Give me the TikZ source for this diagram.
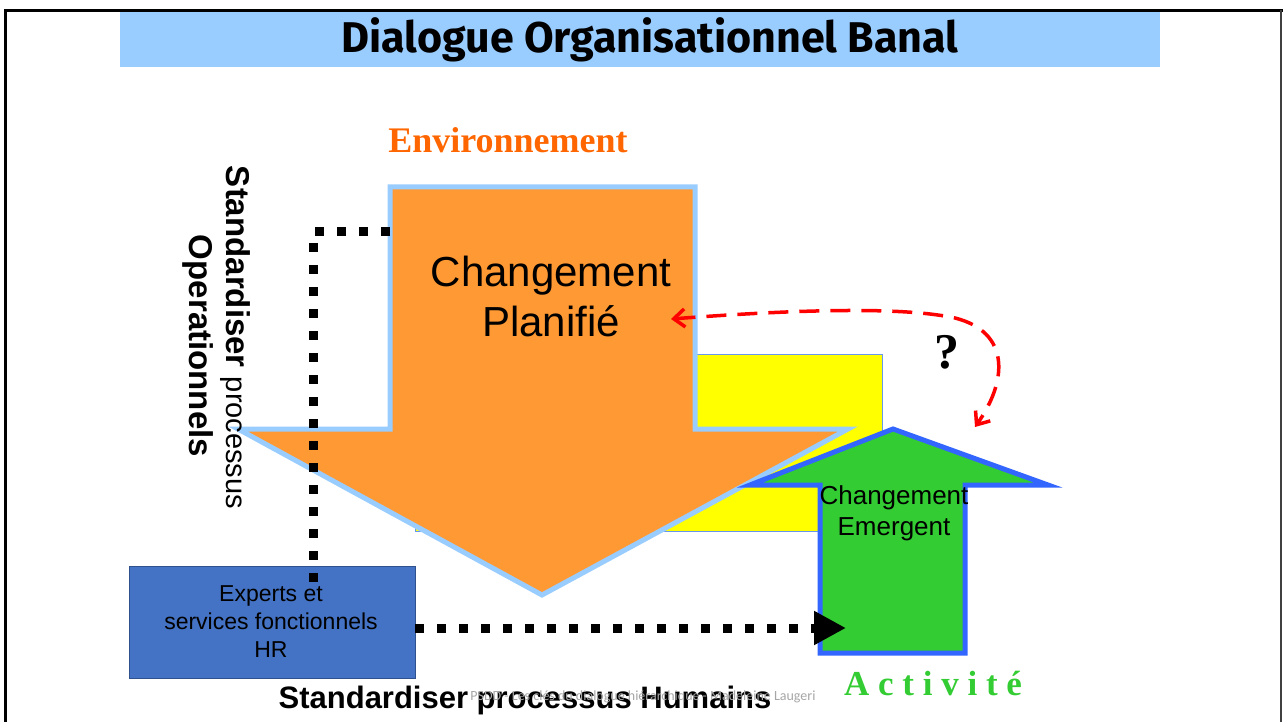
\documentclass[tikz,border=0pt]{standalone}
\usepackage{fontspec}
\setmainfont{Liberation Sans}
\newfontfamily\seriffont{Liberation Serif}
\newfontfamily\titlefont{Fira Sans}
\newfontfamily\footfont{Carlito}
\usetikzlibrary{arrows.meta}
\definecolor{bandblue}{HTML}{99CCFF}
\definecolor{arrorange}{HTML}{FF9933}
\definecolor{envorange}{HTML}{FF6600}
\definecolor{grn}{HTML}{33CC33}
\definecolor{grnborder}{HTML}{3366FF}
\definecolor{boxblue}{HTML}{4472C4}
\definecolor{boxborder}{HTML}{2F528F}
\definecolor{ylw}{HTML}{FFFF00}
\definecolor{ylwborder}{HTML}{6699EE}
\tikzset{
  bigdots/.style={line width=9pt, dash pattern=on 9pt off 13pt},
  reddash/.style={red, line width=3.5pt, dash pattern=on 20pt off 11pt},
  lbl/.style={inner sep=0pt, outer sep=0pt},
}
\begin{document}
\begin{tikzpicture}[x=1pt,y=-1pt]
\useasboundingbox (0,0) rectangle (1283,722);
% frame
\draw[line width=3pt,black] (4,10.5) -- (1283,10.5);
\draw[line width=3pt,black] (5.5,10) -- (5.5,722);
\draw[line width=2pt,black!75] (1281,10) -- (1281,722);
% title band
\fill[bandblue] (120,12) rectangle (1160,67);
\node[lbl, anchor=base] (title) at (650,53) {\titlefont\bfseries\fontsize{43}{45}\selectfont Dialogue Organisationnel Banal};
% environnement
\node[lbl, anchor=base] (env) at (508,153) {\seriffont\bfseries\fontsize{36}{38}\selectfont\color{envorange}Environnement};
% yellow rect
\node[draw=ylwborder, line width=1pt, fill=ylw, minimum width=467pt, minimum height=177pt, inner sep=0pt] (ylwrect) at (648.5,442.5) {};
% orange arrow
\draw[bandblue, line width=5pt, fill=arrorange, line join=miter]
  (390,187) -- (695,187) -- (695,429) -- (848,429) -- (542,595) -- (238,429) -- (390,429) -- cycle;
\node[lbl, align=center, font=\fontsize{42}{50}\selectfont] (plan) at (551,296) {Changement\\Planifié};
% green arrow
\draw[grnborder, line width=5pt, fill=grn, line join=miter]
  (820,653) -- (820,485) -- (750,485) -- (893,429) -- (1048,485) -- (965,485) -- (965,653) -- cycle;
\node[lbl, align=center, font=\fontsize{26}{31}\selectfont] (emerg) at (894,513) {Changement\\Emergent};
% blue box
\node[draw=boxborder, line width=1pt, fill=boxblue, minimum width=286pt, minimum height=112pt, inner sep=0pt] (experts) at (272,622) {};
\node[lbl, align=center, font=\fontsize{23}{28}\selectfont] (exptxt) at (271,622) {Experts et\\services fonctionnels\\HR};
% dotted lines
\coordinate (dtop) at (390,232);
\coordinate (dcorner) at (313,232);
\coordinate (dend) at (313,586);
\draw[bigdots] (dtop) -- (dcorner) -- (dend);
\coordinate (hstart) at (415,628);
\coordinate (hend) at (846,628);
\draw[bigdots, -{Triangle[length=32pt,width=32pt]}] (hstart) -- (hend);
% red dashed curve
\coordinate (ltip) at (671,319);
\coordinate (rtip) at (975,427);
\draw[reddash, {Straight Barb[length=11pt,width=18pt]}-{Straight Barb[length=11pt,width=18pt]}]
  (ltip) .. controls (790,310) and (900,306) .. (955,318)
  .. controls (1010,332) and (1008,380) .. (rtip);
\node[lbl, anchor=center] (q) at (947,352) {\seriffont\bfseries\fontsize{50}{52}\selectfont ?};
% vertical texts
\node[lbl, rotate=-90, anchor=base west] (std1) at (226,166) {\bfseries\fontsize{33}{35}\selectfont Standardiser \mdseries\fontsize{29}{31}\selectfont processus};
\node[lbl, rotate=-90, anchor=base west] (std2) at (189,235) {\bfseries\fontsize{33}{35}\selectfont Operationnels};
% bottom texts
\node[lbl, anchor=base] (hum) at (525,708) {\bfseries\fontsize{31}{33}\selectfont Standardiser processus Humains};
\node[lbl, anchor=base] (foot) at (643,700) {\footfont\fontsize{14}{16}\selectfont\color{black!35}PSDD - Les clés du dialogue hiérarchique - Madeleine Laugeri};
\node[lbl, anchor=base] (act) at (933,695) {\seriffont\bfseries\fontsize{35}{37}\selectfont\color{grn}A c t i v i t é};
\end{tikzpicture}
\end{document}
